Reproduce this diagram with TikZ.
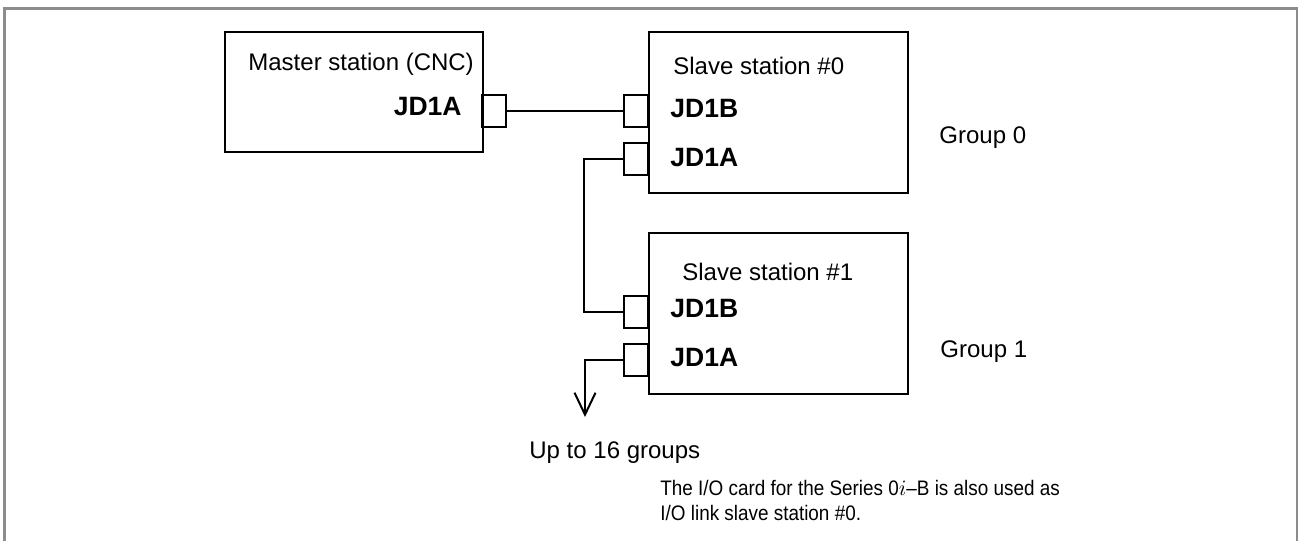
\documentclass[tikz,border=0pt]{standalone}
\usepackage{fontspec}
\setmainfont{Liberation Sans}
\newfontfamily\notefont[FakeStretch=0.9]{Liberation Sans}
\usetikzlibrary{arrows.meta,positioning}
\definecolor{framegray}{RGB}{140,140,140}

\begin{document}
\begin{tikzpicture}[x=0.5pt,y=-0.5pt,
  station/.style={draw, line width=1.2pt, anchor=north west, inner sep=0pt, minimum width=129.5pt, minimum height=80.5pt},
  port/.style={draw, line width=1pt, inner sep=0pt, minimum width=12pt, minimum height=16.3pt},
  lbl/.style={anchor=base west, inner sep=0pt, font=\fontsize{12}{14}\selectfont},
  jd/.style={anchor=base west, inner sep=0pt, font=\fontsize{13.25}{15}\selectfont\bfseries},
  note/.style={anchor=base west, inner sep=0pt, font=\fontsize{10.5}{12.5}\selectfont\notefont},
  link/.style={line width=1pt}]
\useasboundingbox (0,0) rectangle (1300,541);
% outer frame, open at the bottom
\draw[framegray, line width=1.3pt] (4.7,541) -- (4.7,8.3) -- (1297,8.3) -- (1297,541);
% stations
\node[station, minimum width=128.75pt, minimum height=60pt] (master) at (224,31) {};
\node[station] (slave0) at (648,31) {};
\node[station] (slave1) at (648,232) {};
% connectors
\node[port, anchor=west] (mA) at (481,111) {};
\node[port, anchor=east] (s0B) at (648.5,111) {};
\node[port, anchor=east] (s0A) at (648.5,159) {};
\node[port, anchor=east] (s1B) at (648.5,312) {};
\node[port, anchor=east] (s1A) at (648.5,360) {};
% labels
\node[lbl] (mtext) at (248,70) {Master station (CNC)};
\node[jd, anchor=base east] (mjd) at (462,115) {JD1A};
\node[lbl] (s0text) at (673,74) {Slave station \#0};
\node[jd] (s0jdb) at (670,117) {JD1B};
\node[jd] (s0jda) at (670,166) {JD1A};
\node[lbl] (s1text) at (682,280) {Slave station \#1};
\node[jd] (s1jdb) at (670,317) {JD1B};
\node[jd] (s1jda) at (670,366) {JD1A};
\node[lbl] (grp0) at (939,143) {Group 0};
\node[lbl] (grp1) at (940,357) {Group 1};
% cables
\draw[link] (mA.east) -- (s0B.west);
\draw[link] (s0A.west) -- ++(-39,0) |- (s1B.west);
\coordinate (more) at (585,417);
\draw[link, -{Straight Barb[length=11pt, width=10.5pt]}] (s1A.west) -| (more);
\node[lbl] (uptext) at (529,458) {Up to 16 groups};
\node[note] (note1) at (660,495) {The I/O card for the Series 0$i$–B is also used as};
\node[note] (note2) at (660,520) {I/O link slave station \#0.};
\end{tikzpicture}
\end{document}
